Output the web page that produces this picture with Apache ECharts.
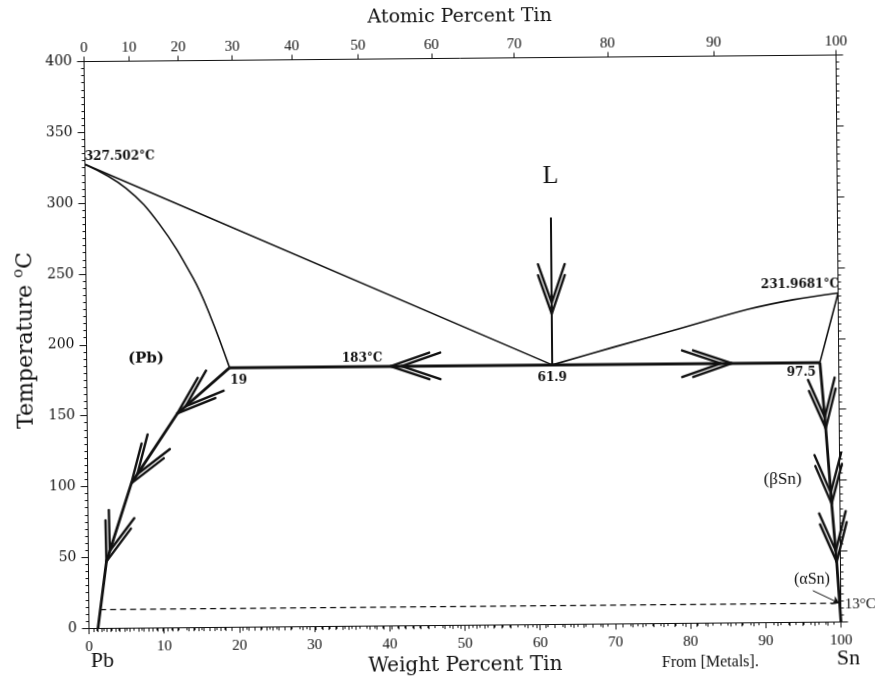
<!DOCTYPE html>
<html>
<head>
<meta charset="utf-8">
<script src="https://cdn.jsdelivr.net/npm/echarts@6/dist/echarts.min.js"></script>
<style>
html,body{margin:0;padding:0;background:#fff;overflow:hidden;}
#chart{width:875px;height:681px;transform:rotate(-0.5deg);transform-origin:437.5px 340.5px;}
</style>
</head>
<body>
<div id="chart"></div>
<script>
// ---------- data (weight percent Sn, temperature in °C) ----------
const tempTicks = [0, 50, 100, 150, 200, 250, 300, 350, 400];
const weightTicks = [0, 10, 20, 30, 40, 50, 60, 70, 80, 90, 100];
const atomicTicks = [0, 10, 20, 30, 40, 50, 60, 70, 80, 90, 100];

const liquidusPb = [[0, 327.502], [61.9, 183]];
const solidusPb = [[0, 327.502], [5.4, 310.5], [9.8, 285], [14.2, 247], [16.5, 219.5], [19, 183]];
const solvusPb = [[19, 183], [12, 151], [5.8, 102], [2.4, 47], [1.2, 0]];
const eutectic = [[19, 183], [97.5, 183]];
const liquidusSn = [[61.9, 183], [70, 195], [79, 208], [88, 221], [94, 227.5], [100, 231.9681]];
const solidusSn = [[97.5, 183], [100, 231.9681]];
const solvusSn = [[97.5, 183], [98.2, 136.5], [98.9, 83.3], [99.5, 42.2], [100, 0]];
const liquidArrowLine = [[61.9, 287], [61.9, 183]];
const allotropic = [[1.5, 13], [99.6, 13]];
const alphaLeader = [[96.3, 22], [99.8, 13]];

// arrow heads: [tipX, tipT, backX, backT]
const arrowHeads = [
  [12, 151, 19, 183],
  [5.8, 102, 12, 151],
  [2.4, 47, 5.8, 102],
  [40.4, 183, 50, 183],
  [85.8, 183, 75, 183],
  [61.9, 219, 61.9, 260],
  [98.2, 136.5, 97.5, 183],
  [98.9, 83.3, 98.2, 136.5],
  [99.5, 42.2, 98.9, 83.3]
];

// annotations: [x, T, text]
const annotations = [
  [0, 327.502, '327.502°C'],
  [7.9, 190, '(Pb)'],
  [19, 183, '19'],
  [40.4, 183, '183°C'],
  [61.9, 183, '61.9'],
  [97.5, 183, '97.5'],
  [100, 231.9681, '231.9681°C'],
  [61.9, 316, 'L'],
  [92.4, 101, '(βSn)'],
  [96.2, 30, '(αSn)'],
  [100, 13, '13°C']
];

// ---------- helpers ----------
const M_SN = 118.71, M_PB = 207.2;
function atToWt(a) { return a * M_SN / (a * M_SN + (100 - a) * M_PB) * 100; }
const atomicMajorPos = atomicTicks.map(atToWt);
const atomicMinorPos = [];
for (let a = 0; a <= 100; a++) { if (a % 10 !== 0) atomicMinorPos.push(atToWt(a)); }

const INK = '#111111';
const serif = 'DejaVu Serif';
const tserif = 'Liberation Serif';

function lineSeries(data, width, extra) {
  return Object.assign({
    type: 'line', data: data, showSymbol: false, symbol: 'none', silent: true,
    xAxisIndex: 0, yAxisIndex: 0, animation: false,
    lineStyle: { color: INK, width: width }, z: 3
  }, extra || {});
}

const labelStyles = {
  '327.502°C': { position: 'inside', align: 'left', verticalAlign: 'bottom', offset: [0, -1], fontSize: 12, fontWeight: 'bold' },
  '(Pb)': { position: 'inside', fontSize: 15, fontWeight: 'bold' },
  '19': { position: 'inside', offset: [9, 13], fontSize: 12, fontWeight: 'bold' },
  '183°C': { position: 'inside', align: 'right', offset: [-8, -8], fontSize: 12, fontWeight: 'bold' },
  '61.9': { position: 'inside', offset: [0, 13], fontSize: 12, fontWeight: 'bold' },
  '97.5': { position: 'inside', align: 'right', offset: [-4, 10], fontSize: 12, fontWeight: 'bold' },
  '231.9681°C': { position: 'inside', align: 'right', verticalAlign: 'bottom', offset: [1, -3], fontSize: 12, fontWeight: 'bold' },
  'L': { position: 'inside', fontSize: 26, fontFamily: tserif },
  '(βSn)': { position: 'inside', fontSize: 17, fontFamily: tserif },
  '(αSn)': { position: 'inside', fontSize: 16, fontFamily: tserif },
  '13°C': { position: 'inside', align: 'left', offset: [4, 1], fontSize: 15, fontFamily: tserif }
};

const annotationData = annotations.map(function (a) {
  const st = labelStyles[a[2]];
  return {
    value: [a[0], a[1]],
    label: Object.assign({ show: true, formatter: a[2], color: INK, opacity: 1, fontFamily: serif }, st)
  };
});

const chart = echarts.init(document.getElementById('chart'), null, { renderer: 'canvas' });

const option = {
  backgroundColor: '#fff',
  animation: false,
  grid: { left: 86.5, right: 36.5, top: 58.5, bottom: 55.5, containLabel: false },
  xAxis: [
    {
      type: 'value', position: 'bottom', min: 0, max: 100, interval: 10,
      name: 'Weight Percent Tin', nameLocation: 'middle', nameGap: 27,
      nameTextStyle: { fontFamily: serif, fontSize: 20, color: INK },
      axisLine: { show: true, onZero: false, lineStyle: { color: INK, width: 1 } },
      axisTick: { show: true, inside: false, length: 6, lineStyle: { color: INK } },
      minorTick: { show: true, splitNumber: 10, length: 3, lineStyle: { color: INK } },
      axisLabel: { show: true, customValues: weightTicks, fontFamily: tserif, fontSize: 15, color: INK, margin: 11 },
      splitLine: { show: false }
    },
    {
      type: 'value', position: 'top', min: 0, max: 100,
      name: 'Atomic Percent Tin', nameLocation: 'middle', nameGap: 32,
      nameTextStyle: { fontFamily: serif, fontSize: 19, color: INK },
      axisLine: { show: true, onZero: false, lineStyle: { color: INK, width: 1 } },
      axisTick: { show: true, inside: false, length: 5, customValues: atomicMajorPos, lineStyle: { color: INK } },
      axisLabel: {
        show: true, customValues: atomicMajorPos, fontFamily: tserif, fontSize: 15, color: INK, margin: 6,
        formatter: function (v) {
          for (let i = 0; i < atomicMajorPos.length; i++) {
            if (Math.abs(atomicMajorPos[i] - v) < 1e-6) return String(atomicTicks[i]);
          }
          return '';
        }
      },
      splitLine: { show: false }
    },
    {
      type: 'value', position: 'top', min: 0, max: 100,
      axisLine: { show: false },
      axisTick: { show: true, inside: true, length: 4, customValues: atomicMinorPos, lineStyle: { color: INK } },
      axisLabel: { show: false },
      splitLine: { show: false }
    }
  ],
  yAxis: [
    {
      type: 'value', position: 'left', min: 0, max: 400, interval: 50,
      name: 'Temperature {sup|o}C', nameLocation: 'middle', nameGap: 39,
      nameTextStyle: {
        fontFamily: serif, fontSize: 22, color: INK, padding: [0, 0, 0, 10],
        rich: { sup: { fontFamily: serif, fontSize: 15, color: INK, verticalAlign: 'top', padding: [0, 0, 13, 0] } }
      },
      axisLine: { show: true, onZero: false, lineStyle: { color: INK, width: 1 } },
      axisTick: { show: true, inside: false, length: 7, lineStyle: { color: INK } },
      minorTick: { show: true, splitNumber: 10, length: 3, lineStyle: { color: INK } },
      axisLabel: { show: true, customValues: tempTicks, fontFamily: serif, fontSize: 14, color: INK, margin: 12 },
      splitLine: { show: false }
    },
    {
      type: 'value', position: 'right', min: 0, max: 400, interval: 50,
      axisLine: { show: true, onZero: false, lineStyle: { color: INK, width: 1 } },
      axisTick: { show: true, inside: false, length: 7, lineStyle: { color: INK } },
      minorTick: { show: true, splitNumber: 10, length: 3, lineStyle: { color: INK } },
      axisLabel: { show: false },
      splitLine: { show: false }
    }
  ],
  graphic: [
    { type: 'text', left: 88, top: 647, style: { text: 'Pb', font: '22px "Liberation Serif"', fill: INK } },
    { type: 'text', left: 834, top: 651, style: { text: 'Sn', font: '22px "Liberation Serif"', fill: INK } },
    { type: 'text', left: 659, top: 657, style: { text: 'From [Metals].', font: '16px "Liberation Serif"', fill: INK } }
  ],
  series: [
    lineSeries(liquidusPb, 1.6),
    lineSeries(solidusPb, 1.6, { smooth: 0.4 }),
    lineSeries(solvusPb, 2.8),
    lineSeries(eutectic, 3),
    lineSeries(liquidusSn, 1.6, { smooth: 0.35 }),
    lineSeries(solidusSn, 1.6),
    lineSeries(solvusSn, 2.8),
    lineSeries(liquidArrowLine, 2),
    lineSeries(allotropic, 1.3, { lineStyle: { color: INK, width: 1.3, type: [6, 4] } }),
    {
      type: 'lines', coordinateSystem: 'cartesian2d', xAxisIndex: 0, yAxisIndex: 0, silent: true,
      symbol: ['none', 'arrow'], symbolSize: 7,
      lineStyle: { color: INK, width: 1, opacity: 1 },
      data: [{ coords: alphaLeader }], z: 4
    },
    {
      type: 'custom', xAxisIndex: 0, yAxisIndex: 0, silent: true, z: 5,
      data: arrowHeads,
      encode: { x: 0, y: 1 },
      renderItem: function (params, api) {
        const tip = api.coord([api.value(0), api.value(1)]);
        const back = api.coord([api.value(2), api.value(3)]);
        let dx = back[0] - tip[0], dy = back[1] - tip[1];
        const L = Math.hypot(dx, dy); dx /= L; dy /= L;
        const arm = 41, ang = 19 * Math.PI / 180;
        const children = [];
        [0, 11].forEach(function (off) {
          const tx = tip[0] + dx * off, ty = tip[1] + dy * off;
          [-1, 1].forEach(function (s) {
            const a = s * ang, c = Math.cos(a), sn = Math.sin(a);
            const ex = tx + arm * (dx * c - dy * sn), ey = ty + arm * (dx * sn + dy * c);
            children.push({ type: 'line', shape: { x1: tx, y1: ty, x2: ex, y2: ey },
              style: { stroke: INK, lineWidth: 2.4, lineCap: 'round' } });
          });
        });
        return { type: 'group', children: children };
      }
    },
    {
      type: 'scatter', xAxisIndex: 0, yAxisIndex: 0, silent: true, symbolSize: 0,
      itemStyle: { opacity: 1 },
      data: annotationData, z: 6, clip: false
    }
  ]
};
chart.setOption(option);
</script>
</body>
</html>
